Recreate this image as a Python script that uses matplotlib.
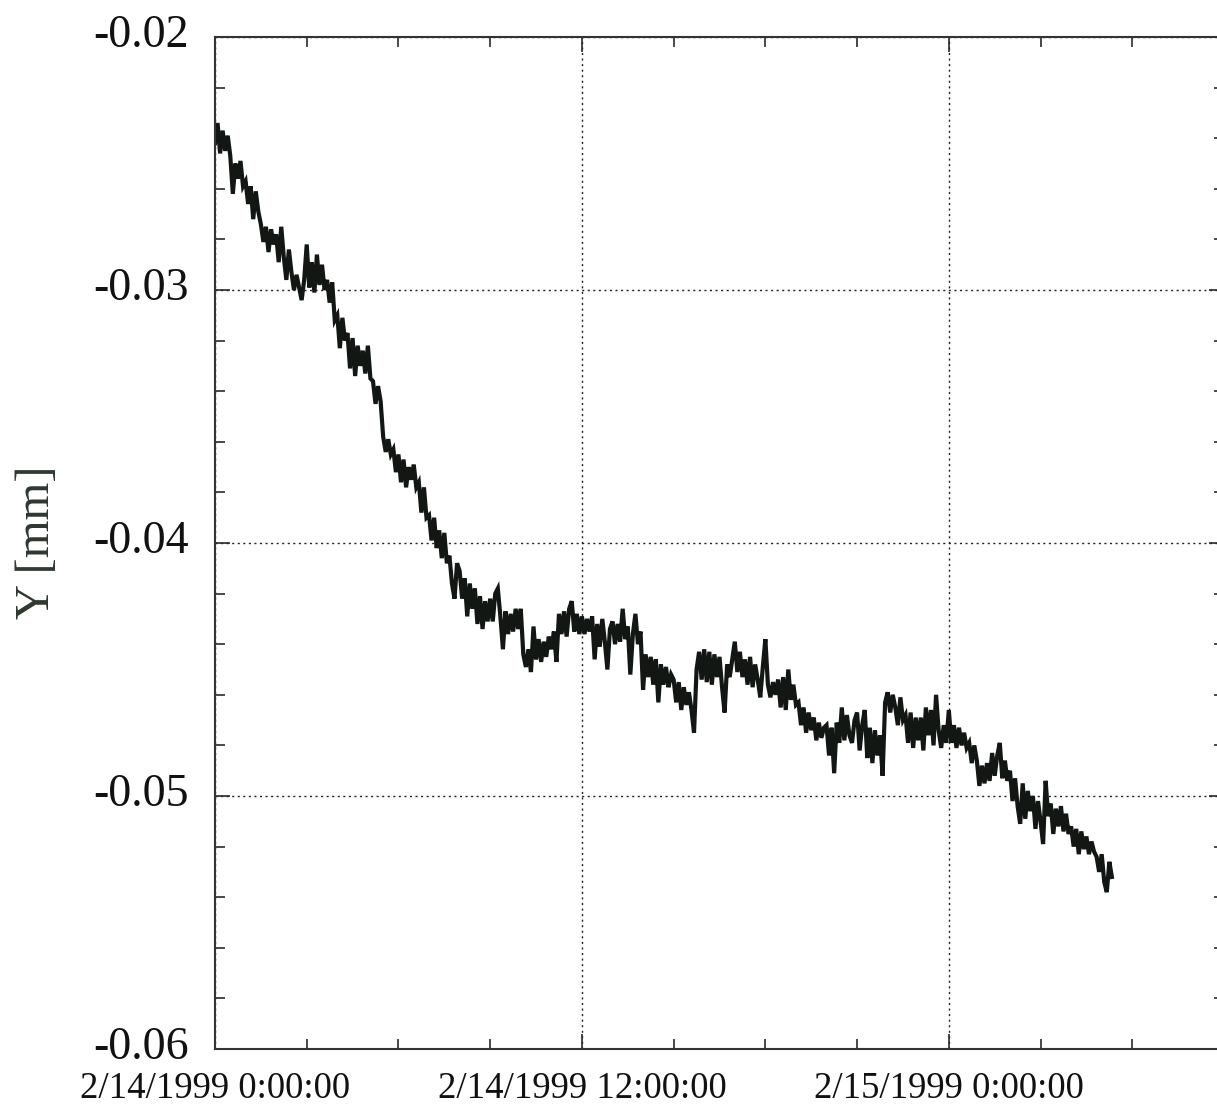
import numpy as np
import pandas as pd
import matplotlib
matplotlib.use("Agg")
import matplotlib.pyplot as plt
import matplotlib.dates as mdates
import matplotlib.transforms as mtransforms
from matplotlib.ticker import MultipleLocator, FuncFormatter

# ---------------- DATA ---------------- #
# Y displacement, in micrometres, one reading every 5 minutes
# starting 2/14/1999 0:00:00 (one row per hour)
y_um = [
    -24.2, -23.4, -24.6, -23.7, -24.5, -23.9, -24.7, -26.2, -25.0, -25.6, -24.9, -25.9,  # 0h
    -25.7, -26.6, -25.9, -27.2, -26.1, -26.9, -27.4, -28.1, -27.5, -28.5, -27.6, -28.2,  # 1h
    -27.8, -28.9, -27.5, -28.7, -29.6, -28.4, -29.3, -30.0, -29.4, -29.9, -30.4, -29.6,  # 2h
    -28.2, -29.9, -28.9, -30.1, -28.6, -29.8, -29.0, -30.0, -29.6, -30.5, -29.7, -31.2,  # 3h
    -31.0, -32.3, -31.1, -32.0, -31.7, -33.1, -31.9, -33.4, -32.2, -33.0, -32.4, -33.3,  # 4h
    -32.2, -33.5, -33.6, -34.5, -33.8, -34.4, -35.8, -36.4, -35.9, -36.5, -36.3, -37.2,  # 5h
    -36.5, -37.6, -36.7, -37.8, -37.0, -37.5, -36.9, -37.8, -37.6, -38.8, -37.8, -39.0,  # 6h
    -38.9, -39.9, -39.0, -40.2, -39.5, -40.6, -39.6, -40.8, -40.5, -41.6, -42.2, -40.8,  # 7h
    -41.1, -42.2, -41.4, -42.9, -41.6, -42.6, -41.8, -43.2, -42.1, -43.4, -42.3, -43.1,  # 8h
    -42.2, -43.1, -42.0, -41.8, -42.9, -44.2, -42.7, -43.6, -42.8, -43.5, -42.6, -43.4,  # 9h
    -42.6, -44.4, -44.9, -44.2, -45.1, -43.3, -44.6, -43.8, -44.7, -43.9, -44.5, -43.7,  # 10h
    -44.2, -43.5, -44.7, -42.8, -43.6, -42.7, -43.7, -42.6, -42.3, -43.5, -42.8, -43.6,  # 11h
    -42.9, -43.6, -43.0, -43.5, -42.9, -44.6, -43.2, -44.1, -43.0, -43.9, -45.0, -43.4,  # 12h
    -43.1, -44.0, -43.2, -43.9, -42.6, -43.8, -43.3, -45.2, -43.6, -42.8, -44.0, -43.5,  # 13h
    -45.8, -44.4, -45.3, -44.5, -45.6, -44.6, -46.3, -44.8, -45.6, -44.9, -45.7, -45.2,  # 14h
    -45.4, -46.3, -45.5, -46.6, -45.7, -46.4, -45.9, -46.6, -47.5, -45.0, -44.3, -45.4,  # 15h
    -44.2, -45.5, -44.3, -45.6, -44.4, -45.3, -44.5, -45.7, -46.7, -44.8, -45.3, -44.6,  # 16h
    -43.9, -45.1, -44.3, -45.3, -44.6, -45.6, -44.5, -45.7, -44.8, -45.4, -46.1, -44.9,  # 17h
    -43.8, -45.6, -46.1, -45.5, -46.0, -45.4, -46.5, -45.3, -46.6, -45.0, -46.2, -45.6,  # 18h
    -46.4, -46.3, -47.2, -46.5, -47.5, -46.7, -47.4, -46.9, -47.8, -47.1, -47.7, -47.3,  # 19h
    -47.2, -48.4, -47.3, -49.1, -47.1, -47.9, -46.5, -47.8, -46.8, -47.6, -47.9, -47.0,  # 20h
    -46.7, -48.2, -47.2, -46.6, -48.5, -47.3, -48.7, -47.4, -48.4, -47.6, -49.2, -46.3,  # 21h
    -45.9, -46.7, -46.0, -46.5, -47.2, -46.1, -47.0, -46.8, -47.9, -46.7, -48.1, -46.9,  # 22h
    -47.8, -46.9, -48.2, -46.5, -47.6, -46.6, -48.0, -46.0, -47.4, -48.1, -47.2, -47.9,  # 23h
    -46.6, -47.9, -47.2, -48.1, -47.3, -48.0, -47.5, -48.1, -47.9, -48.7, -48.0, -48.6,  # 24h
    -49.6, -48.8, -49.5, -48.7, -49.4, -48.3, -49.2, -48.4, -47.9, -49.3, -48.6, -49.4,  # 25h
    -49.0, -50.2, -49.3, -50.4, -51.1, -49.5, -50.9, -49.8, -50.6, -50.0, -51.3, -50.2,  # 26h
    -51.0, -51.9, -49.4, -50.8, -50.3, -51.5, -50.5, -51.2, -50.4, -51.4, -50.7, -51.5,  # 27h
    -51.2, -52.0, -51.3, -52.3, -51.4, -52.1, -51.6, -52.3, -51.8, -52.2, -52.4, -53.0,  # 28h
    -52.3, -53.4, -53.8, -52.6, -53.2,                                                  # 29h
]
start_time = "1999-02-14 00:00"
sample_step = "5min"
x_start = "1999-02-14 00:00"
x_end = "1999-02-15 09:00"

times = pd.date_range(start_time, periods=len(y_um), freq=sample_step)
y_mm = np.array(y_um) / 1000.0

# ---------------- SETUP ---------------- #
plt.rcParams["font.family"] = ["Liberation Serif", "DejaVu Serif"]
plt.rcParams["axes.unicode_minus"] = False

fig = plt.figure(figsize=(12.17, 11.05), dpi=100)
ax = fig.add_axes([215 / 1217, 56 / 1105, 1009 / 1217, 1012 / 1105])

ax.plot(times, y_mm, color="#121714", linewidth=3.0, solid_joinstyle="miter")

ax.set_xlim(pd.Timestamp(x_start), pd.Timestamp(x_end))
ax.set_ylim(-0.06, -0.02)

# ---------------- TICKS ---------------- #
ax.yaxis.set_major_locator(MultipleLocator(0.01))
ax.yaxis.set_minor_locator(MultipleLocator(0.002))
ax.yaxis.set_major_formatter(FuncFormatter(lambda v, p: f"{v:.2f}"))

ax.xaxis.set_major_locator(mdates.HourLocator(byhour=[0, 12]))
ax.xaxis.set_minor_locator(mdates.HourLocator(interval=3))


def fmt_date(v, pos):
    d = mdates.num2date(v)
    return f"{d.month}/{d.day}/{d.year} {d.hour}:{d.minute:02d}:{d.second:02d}"


ax.xaxis.set_major_formatter(FuncFormatter(fmt_date))

ax.tick_params(which="both", direction="in", top=True, right=True,
               colors="#2a2a2a", width=1.2)
ax.tick_params(which="major", length=11)
ax.tick_params(which="minor", length=7)
ax.tick_params(axis="y", which="major", labelsize=33, pad=19, labelcolor="#111111")
ax.tick_params(axis="x", which="major", labelsize=26.5, pad=16, labelcolor="#111111")

# y labels sit a little above their ticks in the scan
shift_up = mtransforms.ScaledTranslation(0, 6 / 100, fig.dpi_scale_trans)
for lab in ax.get_yticklabels():
    lab.set_transform(lab.get_transform() + shift_up)

ax.grid(True, which="major", linestyle=(0, (1.5, 2.5)), color="#222222", linewidth=1.0)

for s in ax.spines.values():
    s.set_color("#333333")
    s.set_linewidth(1.5)

fig.text(37 / 1217, 1 - 542 / 1105, "Y [mm]", rotation=90, ha="center", va="center",
         fontsize=35, color="#2c3830")

plt.savefig("out.png", dpi=100)
plt.close()
